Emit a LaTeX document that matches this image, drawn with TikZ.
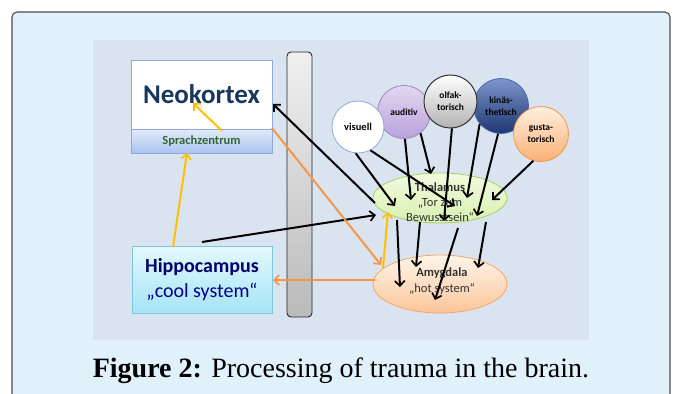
\documentclass[tikz,border=0pt]{standalone}
\usepackage{fontspec}
\setmainfont{Carlito}
\newfontfamily\capfont{Liberation Serif}
\usetikzlibrary{arrows.meta,shapes.geometric}
\definecolor{outerbg}{HTML}{E0F1FB}
\definecolor{panelbg}{HTML}{DAE4F0}
\definecolor{navy}{HTML}{17375E}
\definecolor{orng}{HTML}{F79646}
\definecolor{yell}{HTML}{FFC000}
\definecolor{audtop}{HTML}{E3D7F1}
\definecolor{audbot}{HTML}{B9A1DA}
\definecolor{audline}{HTML}{9C86C4}
\definecolor{kintop}{HTML}{7D96CB}
\definecolor{kinbot}{HTML}{1E3672}
\definecolor{kinline}{HTML}{4A68A8}
\definecolor{thatop}{HTML}{F1FADF}
\definecolor{thabot}{HTML}{D8F0B0}
\definecolor{thaline}{HTML}{A6CF6A}
\definecolor{sprtop}{HTML}{E2ECFB}
\definecolor{sprbot}{HTML}{A9C3EF}
\definecolor{boxline}{HTML}{8EAADB}
\definecolor{hiptop}{HTML}{E3F8FD}
\definecolor{hipbot}{HTML}{A6E4F6}
\definecolor{hipline}{HTML}{7CC6DE}
\tikzset{
  arr/.style={line width=2pt,-{Straight Barb[length=5pt,width=10pt,line width=1.7pt]}},
  oarr/.style={arr,draw=orng},
  yarr/.style={arr,draw=yell},
  sense/.style={circle,inner sep=0pt,minimum size=#1,align=center,font=\bfseries\fontsize{9.5}{12}\selectfont},
  brain/.style={ellipse,inner sep=0pt,minimum width=134pt},
}
\begin{document}
\begin{tikzpicture}[x=1pt,y=-1pt]
\useasboundingbox (0,0) rectangle (673,394);
\fill[white] (0,0) rectangle (673,394);
\begin{scope}
\clip (0,0) rectangle (673,394);
\draw[fill=outerbg,draw=black!70,line width=1.1pt,rounded corners=5pt] (12,12) rectangle (670,420);
\end{scope}
\fill[panelbg] (93,40) rectangle (589,340);
% bar
\draw[rounded corners=4pt,top color=black!6,bottom color=black!27,draw=black!85,line width=0.9pt] (287,52) rectangle (312,317);
% Neokortex
\node[draw=boxline,fill=white,minimum width=141pt,minimum height=69pt,inner sep=0pt,line width=0.8pt,
  font=\bfseries\fontsize{27}{30}\selectfont,text=navy] (neo) at (201.5,94.5) {Neokortex};
\node[draw=boxline,top color=sprtop,bottom color=sprbot,minimum width=141pt,minimum height=24pt,inner sep=0pt,line width=0.8pt,
  font=\bfseries\fontsize{12.5}{14}\selectfont,text=green!25!black!80] (spr) at (201.5,141) {Sprachzentrum};
% Hippocampus
\node[draw=hipline,top color=hiptop,bottom color=hipbot,minimum width=140pt,minimum height=67pt,inner sep=0pt,line width=0.8pt,
  align=center,font=\fontsize{20}{26}\selectfont,text=blue!40!black] (hip) at (202,279.5) {\textbf{Hippocampus}\\[-1pt]\textcolor{blue!55!black}{„cool system“}};
% circles
\node[sense=53pt,draw=audline,top color=audtop,bottom color=audbot,line width=0.8pt] (aud) at (404,112) {auditiv};
\node[sense=55pt,draw=kinline,top color=kintop,bottom color=kinbot,line width=0.8pt] (kin) at (501,106) {kinäs-\\thetisch};
\node[sense=53pt,draw=black!80,top color=white,bottom color=black!30,line width=1pt] (olf) at (450.5,101.5) {olfak-\\torisch};
\node[sense=55pt,draw=orng,top color=orange!12,bottom color=orng!75,line width=0.8pt] (gus) at (541,134) {gusta-\\torisch};
\node[sense=52pt,draw=boxline,fill=white,line width=0.8pt,font=\bfseries\fontsize{10.5}{12}\selectfont] (vis) at (358,127) {visuell};
% Thalamus / Amygdala
\node[brain,minimum height=50pt,draw=thaline,top color=thatop,bottom color=thabot,line width=0.8pt] (tha) at (440,198) {};
\node[align=center,font=\fontsize{12.5}{15}\selectfont,text=black!80] (thatext) at (440,202) {\textbf{Thalamus}\\„Tor zum\\Bewusstsein“};
\node[brain,minimum height=58pt,draw=orng!85,top color=orange!8,bottom color=orng!55,line width=0.8pt] (amy) at (440,284) {};
\node[align=center,font=\fontsize{12.5}{16}\selectfont,text=black!80] (amytext) at (442,281) {\textbf{Amygdala}\\„hot system“};
% coordinates
\coordinate (tl) at (375,203);
\coordinate (nk) at (273,104);
\coordinate (h1) at (395,206);
\coordinate (h2) at (455,206);
\coordinate (h3) at (411,200);
\coordinate (h4) at (431,174);
\coordinate (h5) at (444,221);
\coordinate (h6) at (467,198);
\coordinate (h7) at (477,216);
\coordinate (h8) at (492,200);
\coordinate (hs) at (202,242);
\coordinate (hh) at (376,215);
\coordinate (a1s) at (397,220); \coordinate (a1) at (400,287);
\coordinate (a2s) at (420,222); \coordinate (a2) at (416,267);
\coordinate (a3s) at (458,228); \coordinate (a3) at (435,300);
\coordinate (a4s) at (486,222); \coordinate (a4) at (478,268);
\coordinate (os) at (272,128); \coordinate (oe) at (381,265);
\coordinate (ams) at (375,280); \coordinate (hipe) at (273,280);
\coordinate (ys) at (383,268); \coordinate (ye) at (388,212);
\coordinate (hipt) at (173,247); \coordinate (sprb) at (187,153);
\coordinate (sprt) at (222,131); \coordinate (neoi) at (193,103);
% black arrows
\draw[arr] (tl) -- (nk);
\draw[arr] (vis.265) -- (h1);
\draw[arr] (vis.-62) -- (h2);
\draw[arr] (aud.-88) -- (h3);
\draw[arr] (aud.-52) -- (h4);
\draw[arr] (olf.-87) -- (h5);
\draw[arr] (kin.-140) -- (h6);
\draw[arr] (kin.-96) -- (h7);
\draw[arr] (gus.-106) -- (h8);
\draw[arr] (hs) -- (hh);
\draw[arr] (a1s) -- (a1);
\draw[arr] (a2s) -- (a2);
\draw[arr] (a3s) -- (a3);
\draw[arr] (a4s) -- (a4);
% orange
\draw[oarr] (os) -- (oe);
\draw[oarr] (ams) -- (hipe);
% yellow
\draw[yarr] (ys) -- (ye);
\draw[yarr] (hipt) -- (sprb);
\draw[yarr] (sprt) -- (neoi);
% caption
\node[font=\capfont\fontsize{28}{32}\selectfont,anchor=base,inner sep=0pt] (cap) at (341,377) {\textbf{Figure 2:} Processing of trauma in the brain.};
\end{tikzpicture}
\end{document}
